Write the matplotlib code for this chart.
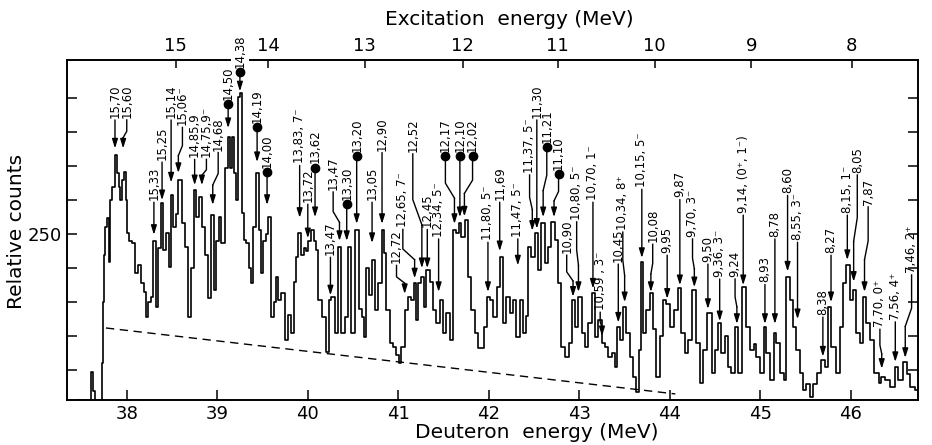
import matplotlib
matplotlib.use("Agg")
import matplotlib.pyplot as plt

plt.rcParams["font.family"] = ["DejaVu Sans"]

# spectrum: deuteron energy (MeV) and relative counts
energy = [
    37.45, 37.60, 37.62, 37.64, 37.66, 37.72, 37.73, 37.74, 37.75, 37.77,
    37.79, 37.81, 37.83, 37.85, 37.88, 37.90, 37.92, 37.94, 37.96, 37.98,
    38.00, 38.01, 38.04, 38.07, 38.11, 38.14, 38.17, 38.20, 38.22, 38.25,
    38.28, 38.31, 38.34, 38.36, 38.39, 38.42, 38.45, 38.48, 38.50, 38.53,
    38.55, 38.59, 38.62, 38.66, 38.70, 38.72, 38.76, 38.78, 38.82, 38.84,
    38.88, 38.92, 38.95, 38.97, 39.00, 39.03, 39.06, 39.10, 39.13, 39.16,
    39.17, 39.19, 39.22, 39.24, 39.27, 39.28, 39.30, 39.33, 39.36, 39.38,
    39.41, 39.45, 39.47, 39.49, 39.52, 39.55, 39.58, 39.61, 39.64, 39.66,
    39.69, 39.72, 39.77, 39.80, 39.83, 39.86, 39.88, 39.91, 39.94, 39.97,
    39.99, 40.02, 40.06, 40.08, 40.10, 40.13, 40.19, 40.22, 40.24, 40.28,
    40.32, 40.35, 40.39, 40.43, 40.46, 40.50, 40.55, 40.58, 40.61, 40.63,
    40.66, 40.69, 40.72, 40.76, 40.80, 40.83, 40.85, 40.88, 40.93, 40.96,
    40.99, 41.02, 41.05, 41.09, 41.13, 41.16, 41.18, 41.20, 41.24, 41.27,
    41.29, 41.33, 41.37, 41.40, 41.44, 41.48, 41.51, 41.55, 41.59, 41.62,
    41.66, 41.68, 41.71, 41.76, 41.79, 41.82, 41.87, 41.90, 41.93, 41.96,
    41.99, 42.03, 42.07, 42.10, 42.14, 42.18, 42.21, 42.25, 42.29, 42.32,
    42.36, 42.39, 42.42, 42.45, 42.49, 42.53, 42.56, 42.60, 42.64, 42.67,
    42.71, 42.75, 42.78, 42.82, 42.86, 42.90, 42.93, 42.97, 43.01, 43.04,
    43.08, 43.12, 43.15, 43.19, 43.23, 43.26, 43.30, 43.34, 43.37, 43.41,
    43.43, 43.47, 43.50, 43.54, 43.58, 43.61, 43.64, 43.67, 43.69, 43.72,
    43.76, 43.80, 43.83, 43.87, 43.91, 43.94, 43.98, 44.02, 44.06, 44.11,
    44.14, 44.19, 44.22, 44.27, 44.31, 44.35, 44.39, 44.44, 44.48, 44.52,
    44.55, 44.59, 44.63, 44.66, 44.70, 44.74, 44.77, 44.83, 44.86, 44.91,
    44.94, 44.97, 45.02, 45.05, 45.08, 45.13, 45.16, 45.19, 45.24, 45.27,
    45.30, 45.35, 45.38, 45.41, 45.46, 45.49, 45.52, 45.57, 45.60, 45.64,
    45.69, 45.73, 45.77, 45.80, 45.86, 45.90, 45.93, 45.97, 46.01, 46.04,
    46.08, 46.12, 46.15, 46.19, 46.23, 46.29, 46.32, 46.35, 46.41, 46.46,
    46.51, 46.54, 46.60, 46.63, 46.68, 46.73,
]
counts = [
    6, 6, 47, 20, 6, 6, 60, 150, 220, 260,
    274, 209, 300, 320, 366, 340, 319, 300, 330, 341,
    300, 251, 240, 237, 193, 205, 178, 165, 128, 150,
    157, 240, 143, 230, 296, 226, 251, 201, 307, 260,
    280, 329, 266, 231, 128, 200, 315, 275, 304, 260,
    220, 156, 278, 168, 240, 275, 237, 348, 393, 348,
    393, 340, 300, 451, 457, 281, 241, 237, 200, 178,
    260, 340, 256, 193, 240, 250, 275, 128, 150, 187,
    153, 163, 94, 131, 104, 180, 216, 251, 219, 230,
    225, 240, 256, 240, 226, 153, 128, 77, 153, 158,
    104, 231, 104, 128, 231, 104, 256, 140, 128, 99,
    200, 160, 212, 138, 178, 256, 222, 138, 90, 84,
    72, 60, 84, 138, 157, 153, 178, 124, 178, 187,
    143, 197, 180, 138, 119, 153, 104, 134, 94, 256,
    251, 266, 246, 271, 187, 138, 104, 82, 82, 113,
    157, 153, 128, 172, 216, 119, 157, 134, 153, 99,
    153, 104, 130, 231, 216, 251, 197, 266, 207, 231,
    268, 241, 178, 84, 69, 90, 153, 113, 157, 104,
    84, 119, 163, 99, 124, 90, 84, 69, 75, 54,
    113, 95, 143, 104, 69, 40, 18, 79, 209, 104,
    138, 163, 110, 40, 100, 153, 148, 113, 138, 171,
    104, 75, 94, 168, 90, 31, 80, 134, 46, 80,
    119, 75, 100, 54, 46, 113, 46, 172, 113, 79,
    88, 69, 46, 113, 75, 35, 104, 90, 46, 35,
    187, 153, 113, 79, 46, 21, 30, 10, 30, 46,
    65, 55, 143, 84, 46, 113, 178, 204, 153, 168,
    104, 90, 157, 119, 94, 46, 31, 40, 35, 25,
    54, 35, 62, 45, 25, 21,
]
assert len(energy) == len(counts)

# dashed background estimate
bg_energy = [37.77, 44.06]
bg_counts = [112, 15]

# excitation energy scale on top (tick positions in deuteron energy)
exc_ticks = [15, 14, 13, 12, 11, 10, 9, 8]
exc_pos = [38.54, 39.56, 40.63, 41.71, 42.76, 43.83, 44.90, 46.01]

# level labels
level_names = [
    "15,70", "15,60", "15,33", "15,25", "15,14", "15,06⁻", "14,85,9", "14,75,9⁻",
    "14,68", "14,50", "14,38", "14,19", "14,00", "13,83, 7⁻", "13,72", "13,62",
    "13,47", "13,30", "13,47", "13,20", "13,05", "12,90", "12,72", "12,65, 7⁻",
    "12,52", "12,45", "12,34, 5⁻", "12,17", "12,10", "12,02", "11,80, 5⁻", "11,69",
    "11,47, 5⁻", "11,37, 5⁻", "11,30", "11,21", "11,10", "10,90", "10,80, 5⁻",
    "10,70, 1⁻", "10,59 , 3⁻", "10,45", "10,34, 8⁺", "10,15, 5⁻", "10,08", "9,95",
    "9,87", "9,70, 3⁻", "9,50", "9,36, 3⁻", "9,24", "9,14, (0⁺, 1⁻)", "8,93", "8,78",
    "8,60", "8,55, 3⁻", "8,38", "8,27", "8,15, 1⁻", "8,05", "7,87", "7,70, 0⁺",
    "7,56, 4⁺", "7,46, 2⁺",
]
dotted = ["14,50", "14,38", "14,19", "14,00", "13,62", "13,30", "13,20",
          "12,17", "12,10", "12,02", "11,21", "11,10"]

# (label x, label bottom, arrow tip x, arrow tip y)
label_pos = [
    (37.87, 421, 37.87, 376), (38.00, 421, 37.96, 376), (38.30, 300, 38.30, 249),
    (38.39, 359, 38.39, 300), (38.49, 421, 38.50, 326), (38.615, 410, 38.57, 340),
    (38.75, 363, 38.76, 322), (38.88, 363, 38.83, 322), (39.01, 373, 38.95, 293),
    (39.12, 447, 39.12, 406), (39.25, 495, 39.26, 460), (39.44, 413, 39.44, 356),
    (39.55, 347, 39.56, 293), (39.91, 354, 39.92, 274), (40.00, 297, 40.00, 244),
    (40.08, 354, 40.08, 275), (40.28, 315, 40.35, 240), (40.43, 300, 40.44, 240),
    (40.25, 219, 40.24, 160), (40.54, 371, 40.55, 265), (40.71, 300, 40.71, 237),
    (40.82, 373, 40.82, 265), (40.98, 207, 41.07, 162), (41.05, 260, 41.18, 185),
    (41.16, 371, 41.26, 200), (41.32, 260, 41.33, 200), (41.445, 246, 41.46, 165),
    (41.52, 371, 41.62, 265), (41.68, 371, 41.68, 275), (41.82, 371, 41.73, 276),
    (41.99, 241, 42.00, 165), (42.12, 300, 42.13, 225), (42.32, 246, 42.32, 204),
    (42.45, 340, 42.48, 255), (42.53, 421, 42.53, 258), (42.64, 384, 42.60, 275),
    (42.77, 344, 42.72, 275), (42.86, 222, 42.93, 158), (42.97, 271, 42.99, 165),
    (43.15, 300, 43.15, 170), (43.23, 138, 43.25, 100), (43.43, 209, 43.43, 120),
    (43.48, 256, 43.50, 150), (43.69, 319, 43.69, 215), (43.81, 238, 43.79, 165),
    (43.97, 222, 43.96, 155), (44.11, 304, 44.11, 175), (44.25, 246, 44.27, 172),
    (44.42, 209, 44.44, 140), (44.55, 187, 44.55, 122), (44.72, 187, 44.74, 118),
    (44.81, 281, 44.83, 175), (45.05, 179, 45.06, 118), (45.16, 246, 45.17, 118),
    (45.30, 310, 45.31, 195), (45.41, 241, 45.41, 125), (45.69, 131, 45.69, 70),
    (45.78, 222, 45.77, 150), (45.96, 281, 45.96, 212), (46.07, 340, 46.03, 180),
    (46.19, 293, 46.15, 165), (46.32, 113, 46.34, 52), (46.49, 124, 46.51, 62),
    (46.67, 193, 46.60, 68),
]

fig = plt.figure(figsize=(9.32, 4.45), dpi=100)
ax = fig.add_axes([0.0719, 0.101, 0.913, 0.764])

ax.plot(energy, counts, color="black", lw=1.2, drawstyle="steps-mid")
ax.plot(bg_energy, bg_counts, color="black", lw=1.0, ls=(0, (6, 4)))

ax.set_xlim(37.34, 46.74)
ax.set_ylim(6, 506)
ax.set_xticks(range(38, 47))
ax.set_yticks(range(50, 451, 50))
ax.set_yticklabels(["250" if v == 250 else "" for v in range(50, 451, 50)])
ax.tick_params(axis="both", direction="in", length=7, width=1.1, labelsize=13,
               right=True, top=False)
for s in ax.spines.values():
    s.set_linewidth(1.2)

# top axis drawn below the main axes so labels can cover its spine
ax2 = ax.twiny()
ax2.set_xlim(ax.get_xlim())
ax2.set_xticks(exc_pos)
ax2.set_xticklabels([str(t) for t in exc_ticks])
ax2.tick_params(axis="x", direction="in", length=6, width=1.1, labelsize=13)
for s in ax2.spines.values():
    s.set_linewidth(1.2)
ax2.set_zorder(ax.get_zorder() - 1)
ax.patch.set_visible(False)

arrow_style = dict(arrowstyle="-|>,head_length=0.55,head_width=0.17",
                   color="black", lw=1.0, shrinkA=0, shrinkB=0, mutation_scale=10)

for name, (lx, ly, tx, ty) in zip(level_names, label_pos):
    txt = ax.text(lx, ly, name, rotation=90, ha="center", va="bottom",
                  fontsize=8.5, zorder=5, clip_on=False)
    if name == "14,38":
        txt.set_bbox(dict(facecolor="white", edgecolor="none", pad=1.5))
    start = ly - 3
    if name in dotted:
        ax.plot(lx, ly - 6, "o", color="black", ms=6, zorder=5)
        start = ly - 6
    d = start - ty
    if abs(tx - lx) < 0.02:
        ax.annotate("", xy=(lx, ty), xytext=(lx, start), arrowprops=arrow_style)
    else:
        k1 = start - 0.4 * d
        k2 = start - 0.62 * d
        ax.plot([lx, lx, tx], [start, k1, k2], color="black", lw=1.0)
        ax.annotate("", xy=(tx, ty), xytext=(tx, k2), arrowprops=arrow_style)

fig.text(0.018, 0.479, "Relative counts", rotation=90, ha="center", va="center",
         fontsize=14.5)
fig.text(0.576, 0.029, "Deuteron  energy (MeV)", ha="center", va="center",
         fontsize=14.5)
fig.text(0.547, 0.957, "Excitation  energy (MeV)", ha="center", va="center",
         fontsize=14.5)

fig.savefig("out.png", dpi=100)
